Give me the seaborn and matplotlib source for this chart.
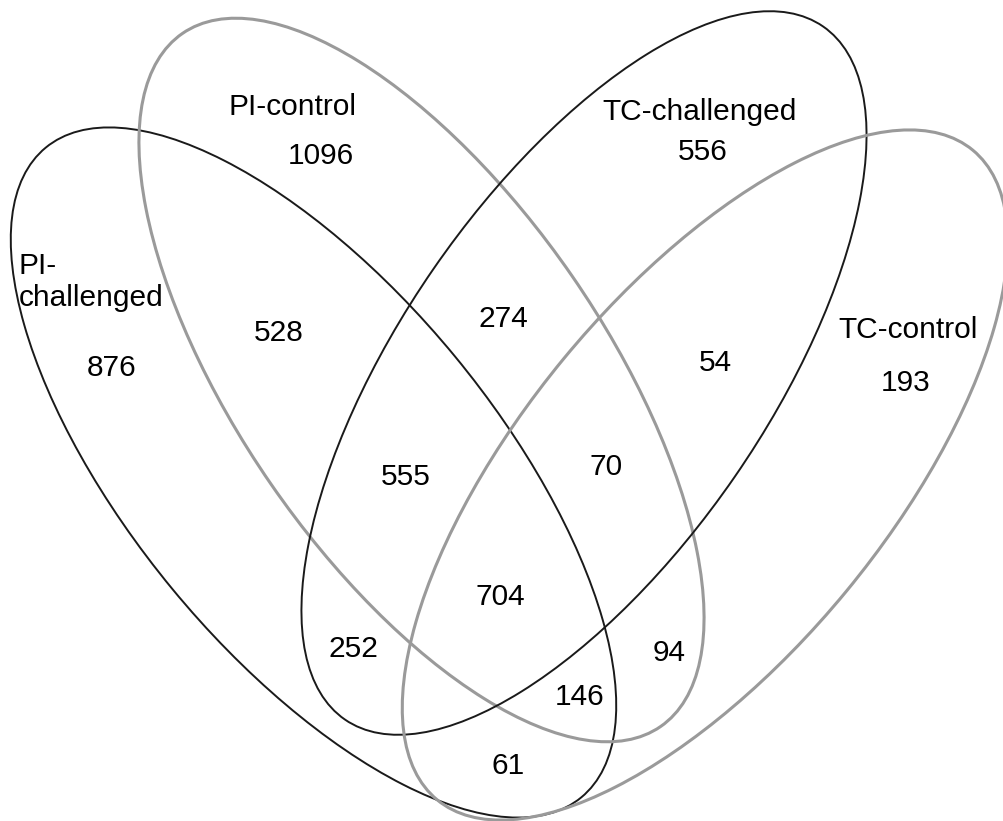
import matplotlib
matplotlib.use("Agg")
import matplotlib.pyplot as plt
from matplotlib.patches import Ellipse
import seaborn as sns

# Dados do diagrama de Venn (4 conjuntos)
set_names = ["PI-\nchallenged", "PI-control", "TC-challenged", "TC-control"]
region_sets = ["1", "2", "3", "4", "12", "23", "34", "123", "234", "1234",
               "13", "24", "124", "134"]
region_counts = [876, 1096, 556, 193, 528, 274, 54, 555, 70, 704,
                 252, 94, 61, 146]

# Layout (pixels da imagem original)
ellipse_centers = [(313.5, 472.5), (421.5, 380), (584, 373), (705, 475)]
ellipse_angles = [50.5, 55.4, -55.4, -50.5]
ellipse_colors = ["#1a1a1a", "#9a9a9a", "#1a1a1a", "#9a9a9a"]
ellipse_lw = [1.4, 2.2, 1.4, 2.2]

name_pos = [(19, 282), (293, 107), (700, 112), (908, 330)]
name_ha = ["left", "center", "center", "center"]
count_pos = {"1": (112, 368), "2": (321, 156), "3": (703, 152), "4": (906, 383),
             "12": (279, 333), "23": (503, 319), "34": (715, 363),
             "123": (406, 477), "234": (606, 467), "1234": (500, 597),
             "13": (353, 649), "24": (669, 653), "124": (508, 766),
             "134": (580, 697)}

sns.set_style("white")
plt.rcParams["font.family"] = ["Liberation Sans", "DejaVu Sans"]

fig = plt.figure(figsize=(10.04, 8.21), dpi=100)
ax = fig.add_axes([0, 0, 1, 1])
ax.set_xlim(0, 1004)
ax.set_ylim(821, 0)
ax.set_aspect("equal")
ax.axis("off")

for (cx, cy), ang, col, lw in zip(ellipse_centers, ellipse_angles, ellipse_colors, ellipse_lw):
    ax.add_patch(Ellipse((cx, cy), width=842, height=366, angle=ang,
                         fill=False, edgecolor=col, linewidth=lw))

for name, (x, y), ha in zip(set_names, name_pos, name_ha):
    ax.text(x, y, name, ha=ha, va="center", fontsize=21.5, color="black",
            linespacing=1.15)

for key, val in zip(region_sets, region_counts):
    x, y = count_pos[key]
    ax.text(x, y, str(val), ha="center", va="center", fontsize=21.5, color="black")

fig.savefig("out.png", dpi=100)
